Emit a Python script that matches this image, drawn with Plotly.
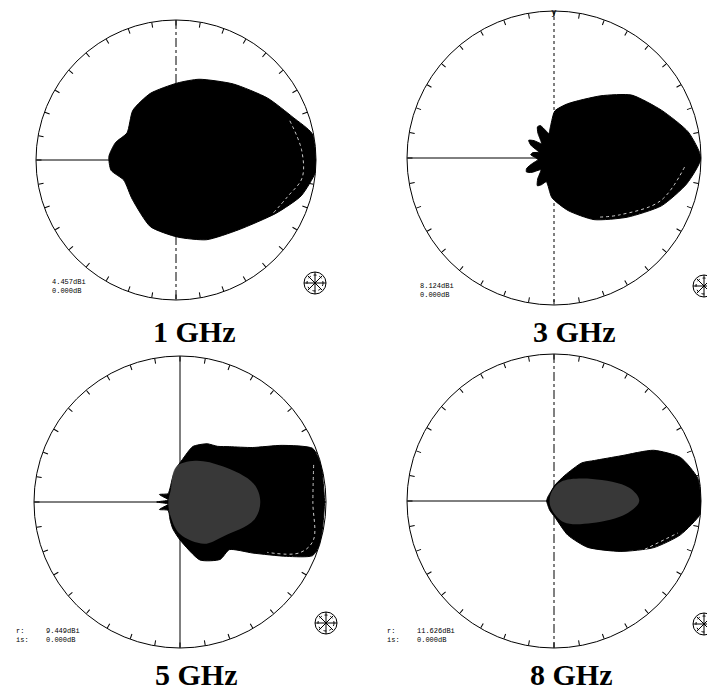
import plotly.graph_objects as go

# page body has an 8px margin, so the figure is drawn 8px in from the window corner
OFF = 8
W, H = 715 - OFF, 690 - OFF

# ---------------- data (pattern outlines, normalised radius, angle in degrees) -------------
freq_labels = ["1 GHz", "3 GHz", "5 GHz", "8 GHz"]
gain_labels = ["4.457dBi", "8.124dBi", "9.449dBi", "11.626dBi"]
min_labels = ["0.000dB", "0.000dB", "0.000dB", "0.000dB"]

theta_1 = [0, 11, 20, 34, 53, 74, 89, 111, 131, 151, 164, 177, 189, 201, 222, 249, 271, 291, 312, 332, 344, 355, 360]
r_1 = [1.00, 0.99, 0.89, 0.79, 0.68, 0.60, 0.55, 0.51, 0.47, 0.40, 0.45, 0.48, 0.47, 0.40, 0.42, 0.51, 0.55, 0.61, 0.67, 0.81, 0.93, 1.00, 1.00]

theta_3ghz = [0, 11, 24, 39, 53, 76, 89, 96, 102, 106, 113, 118, 123, 131, 139, 145, 151, 159, 166, 172, 178,
              186, 194, 201, 207, 213, 222, 232, 239, 245, 252, 267, 285, 303, 321, 336, 349, 360]
r_3ghz = [1.00, 0.93, 0.80, 0.68, 0.53, 0.38, 0.32, 0.22, 0.17, 0.19, 0.24, 0.24, 0.20, 0.13, 0.18, 0.21, 0.18, 0.11, 0.15, 0.16, 0.13,
          0.11, 0.15, 0.20, 0.21, 0.18, 0.12, 0.18, 0.22, 0.20, 0.17, 0.27, 0.37, 0.50, 0.64, 0.80, 0.92, 1.00]

theta_5 = [0, 8, 15, 22, 29, 37, 48, 56, 65, 77, 87, 97, 106, 124, 145, 160, 170, 180, 190, 200, 215, 241, 255, 270, 289, 305, 316, 325, 333, 338, 344, 352, 360]
r_5 = [0.99, 0.99, 1.00, 0.98, 0.80, 0.62, 0.51, 0.46, 0.44, 0.39, 0.29, 0.23, 0.18, 0.12, 0.10, 0.15, 0.08, 0.16, 0.08, 0.15, 0.10, 0.14, 0.19, 0.26, 0.42, 0.48, 0.47, 0.61, 0.82, 0.98, 1.00, 0.99, 0.99]

theta_8 = [0, 9, 19, 27, 34, 45, 54, 67, 86, 117, 150, 180, 210, 246, 273, 292, 306, 323, 335, 345, 355, 360]
r_8 = [1.00, 0.99, 0.91, 0.76, 0.55, 0.39, 0.32, 0.19, 0.11, 0.06, 0.05, 0.05, 0.05, 0.07, 0.11, 0.25, 0.39, 0.57, 0.75, 0.89, 1.00, 1.00]

# lighter (speckled) inner regions of the 5 GHz and 8 GHz patterns
inner_theta_5 = [0, 14, 40, 70, 97, 130, 180, 232, 270, 300, 322, 346, 360]
inner_r_5 = [0.55, 0.52, 0.38, 0.30, 0.24, 0.10, 0.08, 0.11, 0.22, 0.33, 0.38, 0.52, 0.55]
inner_theta_8 = [0, 10, 30, 70, 100, 180, 255, 295, 330, 350, 360]
inner_r_8 = [0.58, 0.52, 0.30, 0.14, 0.07, 0.03, 0.06, 0.16, 0.30, 0.50, 0.58]

# faint white inner contour lines
hl_theta_1 = [19, 4.5, 352, 342, 331]
hl_r_1 = [0.86, 0.90, 0.91, 0.84, 0.79]
hl_theta_3ghz = [356, 338, 319, 308]
hl_r_3ghz = [0.89, 0.78, 0.59, 0.51]
hl_theta_5 = [15.5, 0, 344, 337, 330]
hl_r_5 = [0.95, 0.91, 0.95, 0.89, 0.69]
hl_theta_8 = [332, 345.5]
hl_r_8 = [0.70, 0.87]

patterns = [(theta_1, r_1), (theta_3ghz, r_3ghz), (theta_5, r_5), (theta_8, r_8)]
inners = [None, None, (inner_theta_5, inner_r_5), (inner_theta_8, inner_r_8)]
highlights = [(hl_theta_1, hl_r_1), (hl_theta_3ghz, hl_r_3ghz), (hl_theta_5, hl_r_5), (hl_theta_8, hl_r_8)]

# ---------------- layout of the four panels (pixel centre, radius) --------------------------
panels = [
    dict(cx=176, cy=160, R=140, vdash="dashdot", lab=(195, 331), txt=(50, 286), logo=(315, 283), yr=1.03),
    dict(cx=554, cy=158, R=147, vdash="dot", lab=(574, 331), txt=(418, 290), logo=(704, 286), yr=0.99),
    dict(cx=180, cy=502, R=146, vdash="solid", lab=(196, 674), txt=(44, 635), logo=(326, 623), yr=None),
    dict(cx=554, cy=501, R=147, vdash="dashdot", lab=(571, 674), txt=(415, 635), logo=(704, 624), yr=None),
]


def px(x):
    return (x - OFF) / W


def py(y):
    return 1 - (y - OFF) / H


fig = go.Figure()
annotations = []
shapes = []

for i, (p, (th, rr)) in enumerate(zip(panels, patterns)):
    sp = "polar" if i == 0 else f"polar{i + 1}"
    # axes lines
    fig.add_trace(go.Scatterpolar(r=[1.0, 0, 1.0], theta=[180, 0, 0], mode="lines",
                                  line=dict(color="black", width=1), subplot=sp,
                                  showlegend=False, hoverinfo="skip"))
    fig.add_trace(go.Scatterpolar(r=[1.0, 0, 1.0], theta=[90, 0, 270], mode="lines",
                                  line=dict(color="black", width=1, dash=p["vdash"]), subplot=sp,
                                  showlegend=False, hoverinfo="skip"))
    # pattern
    fig.add_trace(go.Scatterpolar(r=rr, theta=th, mode="lines", fill="toself",
                                  fillcolor="black", line=dict(color="black", width=1, shape="spline", smoothing=0.6),
                                  subplot=sp, showlegend=False))
    if inners[i] is not None:
        it, ir = inners[i]
        fig.add_trace(go.Scatterpolar(r=ir, theta=it, mode="lines", fill="toself",
                                      fillcolor="rgba(75,75,75,0.75)",
                                      line=dict(color="rgba(0,0,0,0)", width=0, shape="spline", smoothing=1.0),
                                      subplot=sp, showlegend=False, hoverinfo="skip"))
    ht, hr = highlights[i]
    fig.add_trace(go.Scatterpolar(r=hr, theta=ht, mode="lines",
                                  line=dict(color="rgba(255,255,255,0.8)", width=1, dash="dot", shape="spline"),
                                  subplot=sp, showlegend=False, hoverinfo="skip"))
    # axis letters
    if p["yr"] is not None:
        lt, lr, ltx = [90, 0], [p["yr"], 1.06], ["y", "x"]
    else:
        lt, lr, ltx = [0], [1.06], ["x"]
    fig.add_trace(go.Scatterpolar(r=lr, theta=lt, mode="text", text=ltx,
                                  textfont=dict(family="DejaVu Sans", size=9, color="black"),
                                  cliponaxis=False, subplot=sp, showlegend=False, hoverinfo="skip"))

    R = p["R"]
    dom = dict(x=[px(p["cx"] - R), px(p["cx"] + R)], y=[py(p["cy"] + R), py(p["cy"] - R)])
    fig.update_layout(**{sp: dict(
        domain=dom,
        bgcolor="white",
        radialaxis=dict(visible=False, range=[0, 1]),
        angularaxis=dict(showgrid=False, showticklabels=False, showline=True, linecolor="black",
                         linewidth=1, ticks="inside", ticklen=5, tickwidth=1, tickcolor="black",
                         dtick=10, direction="counterclockwise", rotation=0),
    )})

    lx, ly = p["lab"]
    annotations.append(dict(x=px(lx), y=py(ly), xref="paper", yref="paper", text="<b>%s</b>" % freq_labels[i],
                            showarrow=False, font=dict(family="Liberation Serif", size=30, color="black"),
                            xanchor="center", yanchor="middle"))
    tx, ty = p["txt"]
    annotations.append(dict(x=px(tx), y=py(ty), xref="paper", yref="paper",
                            text=gain_labels[i] + "<br>" + min_labels[i], showarrow=False, align="left",
                            font=dict(family="Liberation Mono", size=7, color="black"),
                            xanchor="left", yanchor="middle"))
    if i >= 2:
        annotations.append(dict(x=px(tx - 30), y=py(ty), xref="paper", yref="paper",
                                text="r:<br>is:", showarrow=False, align="left",
                                font=dict(family="Liberation Mono", size=7, color="black"),
                                xanchor="left", yanchor="middle"))
    # coordinate-system logo
    gx, gy = p["logo"]
    rl = 11
    shapes.append(dict(type="circle", xref="paper", yref="paper", x0=px(gx - rl), x1=px(gx + rl),
                       y0=py(gy + rl), y1=py(gy - rl), line=dict(color="black", width=1)))
    shapes.append(dict(type="circle", xref="paper", yref="paper", x0=px(gx - rl + 3), x1=px(gx + rl - 3),
                       y0=py(gy + rl - 3), y1=py(gy - rl + 3), line=dict(color="black", width=1, dash="dot")))
    for (ax, ay, bx, by) in [(-rl, 0, rl, 0), (0, -rl, 0, rl), (-7, -7, 7, 7), (-7, 7, 7, -7)]:
        shapes.append(dict(type="line", xref="paper", yref="paper", x0=px(gx + ax), x1=px(gx + bx),
                           y0=py(gy + ay), y1=py(gy + by), line=dict(color="black", width=1)))

fig.update_layout(width=W, height=H, margin=dict(l=0, r=0, t=0, b=0), paper_bgcolor="white",
                  plot_bgcolor="white", annotations=annotations, shapes=shapes, showlegend=False)

fig.write_html("out.html")
